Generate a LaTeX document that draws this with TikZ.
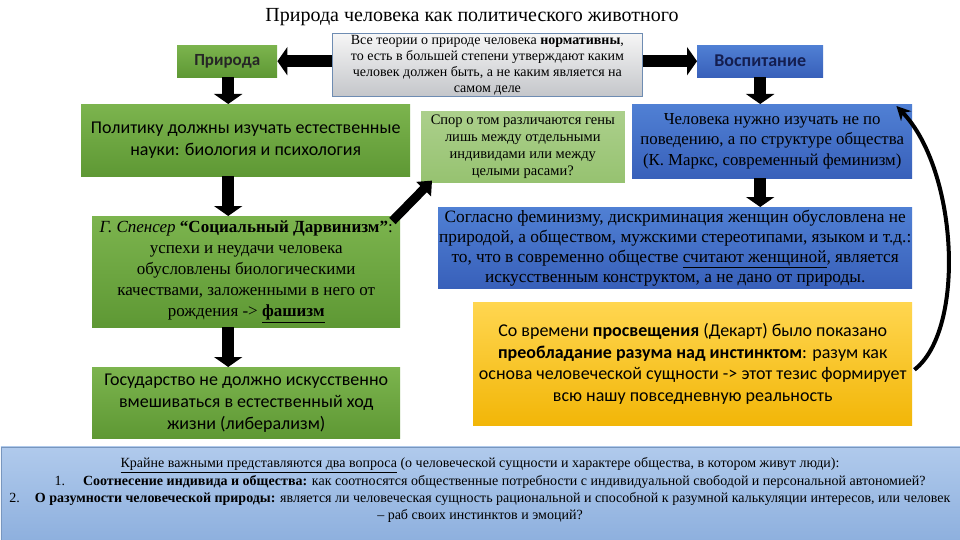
\documentclass[tikz,border=0pt]{standalone}
\usepackage{fontspec}
\setmainfont{Liberation Serif}
\newfontfamily\calib{Carlito}
\usetikzlibrary{arrows.meta,calc}
\definecolor{gtop}{RGB}{124,180,78}
\definecolor{gbot}{RGB}{94,152,52}
\definecolor{lgtop}{RGB}{172,208,140}
\definecolor{lgbot}{RGB}{150,194,112}
\definecolor{btop}{RGB}{80,128,212}
\definecolor{bbot}{RGB}{56,96,186}
\definecolor{ytop}{RGB}{255,214,80}
\definecolor{ybot}{RGB}{242,182,8}
\definecolor{graytop}{RGB}{246,246,246}
\definecolor{graybot}{RGB}{196,198,202}
\definecolor{grayline}{RGB}{110,140,178}
\definecolor{pbtop}{RGB}{176,202,236}
\definecolor{pbbot}{RGB}{142,176,222}
\definecolor{pbline}{RGB}{120,150,190}
\definecolor{navy}{RGB}{20,30,80}
\newcommand{\fsz}[2]{\fontsize{#1}{#2}\selectfont}
\begin{document}
\begin{tikzpicture}[x=1pt,y=-1pt,
  box/.style={inner sep=0pt, anchor=north west, align=center},
  greenbox/.style={box, top color=gtop, bottom color=gbot},
  lgreenbox/.style={box, top color=lgtop, bottom color=lgbot, draw=white, line width=0.6pt},
  bluebox/.style={box, top color=btop, bottom color=bbot},
  yellowbox/.style={box, top color=ytop, bottom color=ybot},
  graybox/.style={box, top color=graytop, bottom color=graybot, draw=grayline, line width=0.8pt},
  fatarrow/.style={line width=12pt, black, -{Triangle[length=10pt,width=28pt]}},
  diagarrow/.style={line width=9pt, black, -{Triangle[length=12pt,width=20pt]}},
  curvearrow/.style={line width=4pt, black, -{Stealth[length=14pt,width=14pt]}},
  bottomline/.style={anchor=base, inner sep=0pt, font=\fsz{14}{17}}
]
\useasboundingbox (0,0) rectangle (960,540);
\fill[white] (0,0) rectangle (960,540);

% title
\node[inner sep=0pt, font=\fsz{20}{22}] (title) at (472,17) {Природа человека как политического животного};

% top row
\node[greenbox, minimum width=100pt, minimum height=32pt, font=\calib\bfseries\fsz{17}{19}, text=black!85] (priroda) at (177,45) {Природа};
\node[graybox, minimum width=310pt, minimum height=63pt, font=\fsz{14}{16}] (gray) at (332,33)
  {Все теории о природе человека \textbf{нормативны},\\
   то есть в большей степени утверждают каким\\
   человек должен быть, а не каким является на\\[0pt]
   самом деле};
\node[bluebox, minimum width=126pt, minimum height=32pt, font=\calib\bfseries\fsz{18}{20}, text=navy] (vosp) at (697,45) {Воспитание};

% left column
\node[greenbox, minimum width=329pt, minimum height=72pt, font=\calib\fsz{18}{22}] (pol) at (81,104)
  {Политику должны изучать естественные\\ науки: биология и психология};
\node[greenbox, minimum width=308pt, minimum height=111pt, font=\fsz{17}{21}] (spencer) at (92,216)
  {\textit{Г. Спенсер} \textbf{“Социальный Дарвинизм”}:\\
   успехи и неудачи человека\\
   обусловлены биологическими\\
   качествами, заложенными в него от\\
   рождения -> \underline{\textbf{фашизм}}};
\node[greenbox, minimum width=308pt, minimum height=71pt, font=\calib\fsz{18}{22}] (gos) at (92,367)
  {Государство не должно искусственно\\
   вмешиваться в естественный ход\\
   жизни (либерализм)};

% middle / right
\node[lgreenbox, minimum width=205pt, minimum height=73pt, font=\fsz{14.5}{17}] (spor) at (420,110)
  {Спор о том различаются гены\\
   лишь между отдельными\\
   индивидами или между\\
   целыми расами?};
\node[bluebox, minimum width=280pt, minimum height=74pt, font=\fsz{16.8}{20.5}] (chel) at (632,104)
  {Человека нужно изучать не по\\
   поведению, а по структуре общества\\
   (К. Маркс, современный феминизм)};
\node[bluebox, minimum width=474pt, minimum height=81pt, font=\fsz{17.3}{20}] (fem) at (438,207)
  {Согласно феминизму, дискриминация женщин обусловлена не\\
   природой, а обществом, мужскими стереотипами, языком и т.д.:\\
   то, что в современно обществе \underline{считают женщиной}, является\\
   искусственным конструктом, а не дано от природы.};
\node[yellowbox, minimum width=439pt, minimum height=123pt, font=\calib\fsz{18}{21.5}] (yel) at (473,302)
  {Со времени \textbf{просвещения} (Декарт) было показано\\
   \textbf{преобладание разума над инстинктом}: разум как\\
   основа человеческой сущности -> этот тезис формирует\\
   всю нашу повседневную реальность};

% bottom panel
\node[box, top color=pbtop, bottom color=pbbot, draw=pbline, line width=0.8pt, minimum width=959pt, minimum height=93pt] (panel) at (0.5,446.5) {};
\node[bottomline] (q0) at (480,467.5) {\underline{Крайне важными представляются два вопроса} (о человеческой сущности и характере общества, в котором живут люди):};
\node[bottomline] (q1) at (490,485.5) {1.\hspace{18pt}\textbf{Соотнесение индивида и общества:} как соотносятся общественные потребности с индивидуальной свободой и персональной автономией?};
\node[bottomline] (q2) at (480,502.5) {2.\hspace{15pt}\textbf{О разумности человеческой природы:} является ли человеческая сущность рациональной и способной к разумной калькуляции интересов, или человек};
\node[bottomline] (q3) at (480,519.5) {– раб своих инстинктов и эмоций?};

% arrows
\draw[fatarrow] (gray.west |- priroda.east) -- (priroda.east);
\draw[fatarrow] (gray.east |- vosp.west) -- (vosp.west);
\draw[fatarrow] ($(priroda.south)+(1,0)$) -- ($(priroda.south |- pol.north)+(1,0)$);
\draw[fatarrow] ($(priroda.south |- pol.south)+(1,0)$) -- ($(priroda.south |- spencer.north)+(1,0)$);
\draw[fatarrow] ($(priroda.south |- spencer.south)+(1,0)$) -- ($(priroda.south |- gos.north)+(1,0)$);
\draw[fatarrow] (vosp.south) -- (vosp.south |- chel.north);
\draw[fatarrow] (vosp.south |- chel.south) -- (vosp.south |- fem.north);
\draw[diagarrow] ($(spencer.north east)+(-8,5)$) -- ($(spor.south west)+(12,-3)$);
\draw[curvearrow] ($(yel.east)+(2,6)$) .. controls (966,330) and (958,170) .. ($(chel.north east)+(-16,2)$);
\end{tikzpicture}
\end{document}
